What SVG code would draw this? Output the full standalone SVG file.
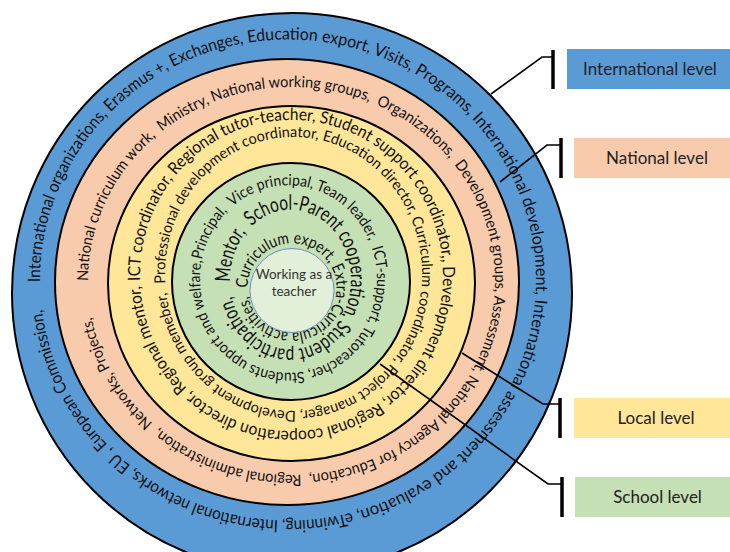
<svg xmlns="http://www.w3.org/2000/svg" width="730" height="552" viewBox="0 0 730 552">
<defs>
<style>
.ring{stroke:#000;stroke-width:2}
.t{font-family:Lato,"Liberation Sans",sans-serif;fill:#111;white-space:pre}
.lg{font-family:Lato,"Liberation Sans",sans-serif;font-size:17px;fill:#222;text-anchor:middle}
.conn{fill:none;stroke:#000;stroke-width:1.6}
.tick{stroke:#000;stroke-width:3.5}
</style>
<path id="pBlue" d="M40.01,282.10 A248,241 0 0 1 535.99,277.90 A248,241 0 0 1 40.01,282.10"/>
<path id="pPeach" d="M88,281 A203.5,194 0 0 1 495,281 A203.5,194 0 0 1 88,281"/>
<path id="pYel1" d="M140.09,280.93 A151.5,155.5 0 0 1 442.91,270.07 A151.5,155.5 0 0 1 140.09,280.93"/>
<path id="pYel2" d="M165.31,283.56 A128.5,137 0 0 1 421.69,264.44 A128.5,137 0 0 1 165.31,283.56"/>
<path id="pGr1" d="M201.87,259.78 A88.5,94 0 0 1 375.13,298.22 A88.5,94 0 0 1 201.87,259.78"/>
<path id="pGr2" d="M230.04,281.96 A60.5,70.5 0 0 1 350.96,277.04 A60.5,70.5 0 0 1 230.04,281.96"/>
<path id="pGr3" d="M247.5,288 A44.5,44.5 0 0 1 336.5,288 A44.5,44.5 0 0 1 247.5,288"/>
</defs>
<rect width="730" height="552" fill="#fff"/>
<g id="ring-international">
<circle class="ring" cx="292" cy="293" r="280" fill="#5B9BD5"/>
<text class="t" font-size="17"><textPath href="#pBlue" startOffset="0" textLength="341" lengthAdjust="spacingAndGlyphs">International organizations, Erasmus +, Exchanges,</textPath></text>
<text class="t" font-size="17"><textPath href="#pBlue" startOffset="345.2" textLength="241.5" lengthAdjust="spacingAndGlyphs">Education export, Visits, Programs,</textPath></text>
<text class="t" font-size="17"><textPath href="#pBlue" startOffset="591.1" textLength="288.5" lengthAdjust="spacingAndGlyphs">International development, International</textPath></text>
<text class="t" font-size="17"><textPath href="#pBlue" startOffset="883.8" textLength="199.7" lengthAdjust="spacingAndGlyphs">assessment and evaluation,</textPath></text>
<text class="t" font-size="17"><textPath href="#pBlue" startOffset="1087.8" textLength="418.2" lengthAdjust="spacingAndGlyphs">eTwinning, International networks, EU , European Commission,</textPath></text>
</g>
<g id="ring-national">
<ellipse class="ring" cx="287" cy="282" rx="232" ry="223" fill="#F8CBAD"/>
<text class="t" font-size="15.5"><textPath href="#pPeach" textLength="1212" lengthAdjust="spacingAndGlyphs">National curriculum work,  Ministry, National working groups,  Organizations,  Development groups, Assessment, National Agency for Education,  Regional administration,  Networks, Projects,</textPath></text>
</g>
<g id="ring-local">
<ellipse class="ring" cx="291.5" cy="283.5" rx="183.5" ry="177.5" fill="#FFE699"/>
<text class="t" font-size="17"><textPath href="#pYel1" textLength="959" lengthAdjust="spacingAndGlyphs">ICT coordinator, Regional tutor-teacher, Student support coordinator,, Development director, Regional cooperation director, Regional mentor,</textPath></text>
<text class="t" font-size="15"><textPath href="#pYel2" textLength="825" lengthAdjust="spacingAndGlyphs">Professional development coordinator, Education director, Curriculum coordinator, Project manager, Development group memeber,</textPath></text>
</g>
<g id="ring-school">
<ellipse class="ring" cx="291" cy="281.5" rx="119" ry="118.5" fill="#C5E0B4"/>
<text class="t" font-size="15.5"><textPath href="#pGr1" textLength="571" lengthAdjust="spacingAndGlyphs">Principal,  Vice principal, Team leader,  ICT-support, Tutoreacher, Students upport and welfare,</textPath></text>
<text class="t" font-size="21"><textPath href="#pGr2" textLength="394" lengthAdjust="spacingAndGlyphs">Mentor,  School-Parent cooperation, Student participation,</textPath></text>
<text class="t" font-size="16.5"><textPath href="#pGr3" textLength="271" lengthAdjust="spacingAndGlyphs">Curriculum expert, Extra-Curricula activities,</textPath></text>
</g>
<g id="center-teacher">
<circle cx="292" cy="290.5" r="42" fill="#E2F0D9" stroke="#6A8FC8" stroke-width="1"/>
<text font-family="Lato,'Liberation Sans',sans-serif" font-size="13.5" fill="#333" text-anchor="middle"><tspan x="294" y="279">Working as a</tspan><tspan x="294" y="295.5">teacher</tspan></text>
</g>
<g id="connectors">
<path class="conn" d="M491,94 L542,57 L553,57"/>
<line class="tick" x1="553" y1="50" x2="553" y2="89"/>
<path class="conn" d="M500,182 L547,145 L561,145"/>
<line class="tick" x1="561" y1="138" x2="561" y2="178"/>
<path class="conn" d="M462,353 L543,404 L560,404"/>
<line class="tick" x1="560" y1="398" x2="560" y2="438"/>
<path class="conn" d="M380,364 L548,484 L562,484"/>
<line class="tick" x1="562" y1="477" x2="562" y2="517"/>
</g>
<g id="legend-international">
<rect x="567" y="49" width="163" height="40" fill="#5B9BD5"/>
<text class="lg" x="650" y="75">International level</text>
</g>
<g id="legend-national">
<rect x="574" y="138" width="156" height="40" fill="#F8CBAD"/>
<text class="lg" x="657" y="164">National level</text>
</g>
<g id="legend-local">
<rect x="574" y="398" width="156" height="40" fill="#FFE699"/>
<text class="lg" x="656" y="424">Local level</text>
</g>
<g id="legend-school">
<rect x="575" y="477" width="155" height="40" fill="#C5E0B4"/>
<text class="lg" x="657.5" y="503">School level</text>
</g>
</svg>
